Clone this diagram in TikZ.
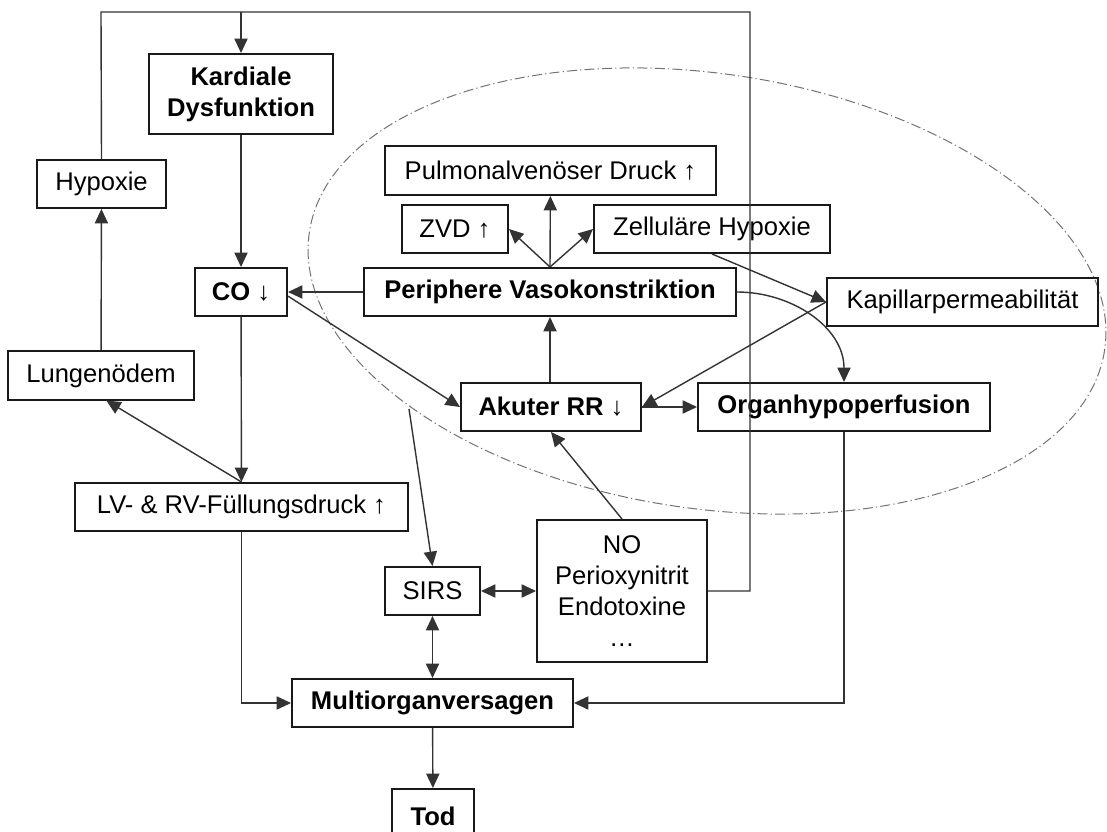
\documentclass[tikz,border=0pt]{standalone}
\usepackage{fontspec}
\setmainfont{Liberation Sans}
\usetikzlibrary{arrows.meta}

\begin{document}
\begin{tikzpicture}[x=0.25mm, y=-0.25mm,
  box/.style={draw=black!90, line width=0.5mm, minimum height=12mm, inner sep=1mm, align=center, font=\fontsize{18.2}{22}\selectfont},
  bbox/.style={box, font=\fontsize{18.2}{22}\selectfont\bfseries},
  conn/.style={draw=black!80, line width=0.35mm},
  arr/.style={conn, -{Triangle[length=3.6mm, width=3.3mm]}},
  dbl/.style={conn, {Triangle[length=3.6mm, width=3.3mm]}-{Triangle[length=3.6mm, width=3.3mm]}},
  zone/.style={draw=black!55, line width=0.25mm, dash pattern=on 2.5mm off 0.8mm on 0.3mm off 0.8mm}]
  \useasboundingbox (0,0) rectangle (1107,832);

  % Region of the acute circulatory failure
  \draw[zone, rotate around={-8.4:(707,291)}] (707,291) ellipse [x radius=402, y radius=217.5];
  \coordinate (zoneS) at (409,409);

  % --- LEFT COLUMN ---
  \node[bbox, minimum width=46mm, minimum height=20mm] (kard) at (241,94) {Kardiale\\Dysfunktion};
  \node[box, minimum width=32.25mm] (hyp) at (101.5,184) {Hypoxie};
  \node[bbox, minimum width=23mm] (co) at (241,292) {CO ↓};
  \node[box, minimum width=46.5mm] (lung) at (101,375.5) {Lungenödem};
  \node[box, minimum width=83.25mm] (lvrv) at (241.5,507) {LV- \& RV-Füllungsdruck ↑};

  % --- INSIDE THE ELLIPSE ---
  \node[box, minimum width=82.75mm, minimum height=12.25mm] (pvd) at (550.5,170.5) {Pulmonalvenöser Druck ↑};
  \node[box, minimum width=26.5mm] (zvd) at (455,229) {ZVD ↑};
  \node[box, minimum width=59mm] (zhyp) at (712,229) {Zelluläre Hypoxie};
  \node[bbox, minimum width=93mm] (pvk) at (550,292) {Periphere Vasokonstriktion};
  \node[box, minimum width=67.75mm] (kap) at (962.5,302) {Kapillarpermeabilität};
  \node[bbox, minimum width=45mm] (akut) at (551,407) {Akuter RR ↓};
  \node[bbox, minimum width=73mm] (organ) at (844,407) {Organhypoperfusion};

  % --- BOTTOM ---
  \node[box, minimum width=23.75mm] (sirs) at (432.5,591) {SIRS};
  \node[box, minimum width=42.5mm, minimum height=35.5mm] (no) at (622,591) {NO\\Perioxynitrit\\Endotoxine\\…};
  \node[bbox, minimum width=70.25mm] (multi) at (432.5,703) {Multiorganversagen};
  \node[bbox, minimum width=20.5mm, minimum height=13.5mm] (tod) at (433,816) {Tod};

  % Feedback loop over the top
  \coordinate (topL) at (101,12);
  \coordinate (topR) at (750,12);
  \draw[conn] (hyp.north) -- (topL) -- (topR) |- (no.east);
  \draw[arr] (kard.north |- topL) -- (kard.north);

  % Left chain
  \draw[arr] (kard) -- (co);
  \draw[arr] (co) -- (lvrv);
  \draw[arr] (lvrv.north) -- (lung.-78);
  \draw[arr] (lung) -- (hyp);
  \draw[arr] (lvrv.south) |- (multi.west);

  % Vasoconstriction
  \draw[arr] (pvk) -- (co);
  \draw[arr] (co.-5) -- (akut.west);
  \draw[arr] (akut.north -| pvk.south) -- (pvk.south);
  \draw[arr] (pvk.north) -- (pvd);
  \draw[arr] (pvk.north) -- (zvd.east);
  \draw[arr] (pvk.north) -- (zhyp.west);
  \draw[arr] (zhyp.south) -- (kap.west);
  \draw[arr] (kap.west) -- (akut.east);
  \draw[arr] (pvk.east) to[out=0, in=90] (organ.north);
  \draw[arr] (akut) -- (organ);
  \draw[arr] (organ.south) |- (multi.east);

  % Mediators and SIRS
  \draw[arr] (no.north) -- (akut.south);
  \draw[arr] (zoneS) -- (sirs.north);
  \draw[dbl] (sirs) -- (no);
  \draw[dbl] (sirs) -- (multi);
  \draw[arr] (multi) -- (tod);
\end{tikzpicture}
\end{document}
